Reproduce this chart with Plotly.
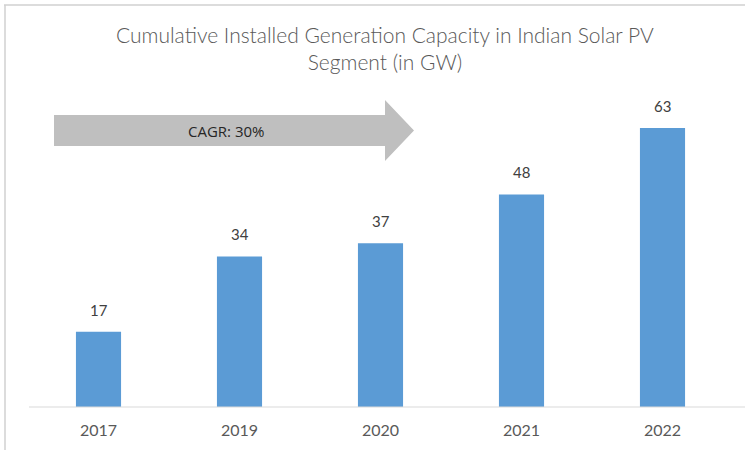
import plotly.graph_objects as go

years = ["2017", "2019", "2020", "2021", "2022"]
capacity = [17, 34, 37, 48, 63]
cagr_label = "CAGR: 30%"
title_text = "Cumulative Installed Generation Capacity in Indian Solar PV<br>Segment (in GW)"

W, H = 745, 450
L, R, T, B = 28, 12, 97, 43
pw, ph = W - L - R, H - T - B

def px(x):
    return (x - L) / pw

def py(y):
    return (H - B - y) / ph

fig = go.Figure()
fig.add_trace(go.Bar(
    x=years, y=capacity,
    marker=dict(color="#5B9BD5", line=dict(width=0)),
    hoverinfo="skip",
))

# arrow
pts = [(54, 115), (385, 115), (385, 100), (414, 130.5), (385, 161), (385, 146), (54, 146)]
path = "M " + " L ".join(f"{px(x):.5f},{py(y):.5f}" for x, y in pts) + " Z"
shapes = [
    dict(type="path", path=path, xref="paper", yref="paper",
         fillcolor="#BFBFBF", line=dict(width=0), layer="below"),
    dict(type="line", xref="paper", yref="paper", x0=px(4), x1=px(745), y0=py(5), y1=py(5),
         line=dict(color="#D0D0D0", width=1.5)),
    dict(type="line", xref="paper", yref="paper", x0=px(5), x1=px(5), y0=py(5), y1=py(450),
         line=dict(color="#D0D0D0", width=1.5)),
    dict(type="line", xref="paper", yref="paper", x0=px(29), x1=px(745), y0=0, y1=0,
         line=dict(color="#D9D9D9", width=1.2)),
]

annotations = [
    dict(x=i, y=v, xref="x", yref="y", text=str(v), showarrow=False,
         xanchor="center", yanchor="bottom", yshift=11,
         font=dict(family="Lato", size=15, color="#404040"))
    for i, v in enumerate(capacity)
]
annotations += [
    dict(text=cagr_label, xref="paper", yref="paper", x=px(226), y=py(131),
         xanchor="center", yanchor="middle", showarrow=False,
         font=dict(family="Open Sans", size=15, color="#262626")),
    dict(text=title_text, xref="paper", yref="paper", x=px(385), y=py(47.5),
         xanchor="center", yanchor="middle", showarrow=False,
         font=dict(family="Lato", size=21, color="#595959", weight=300)),
]

fig.update_layout(
    width=W, height=H,
    margin=dict(l=L, r=R, t=T, b=B),
    paper_bgcolor="white", plot_bgcolor="white",
    bargap=0.68,
    showlegend=False,
    xaxis=dict(type="category", showgrid=False, showline=False, zeroline=False,
               range=[-0.5, len(years) - 0.5], automargin=False,
               ticks="outside", ticklen=9, tickcolor="rgba(0,0,0,0)",
               tickfont=dict(family="Lato", size=16, color="#595959")),
    yaxis=dict(range=[0, 70], visible=False, showgrid=False, zeroline=False,
               automargin=False),
    shapes=shapes,
    annotations=annotations,
)

fig.write_html("out.html", config={"displayModeBar": False},
               post_script="document.body.style.margin='0';")
